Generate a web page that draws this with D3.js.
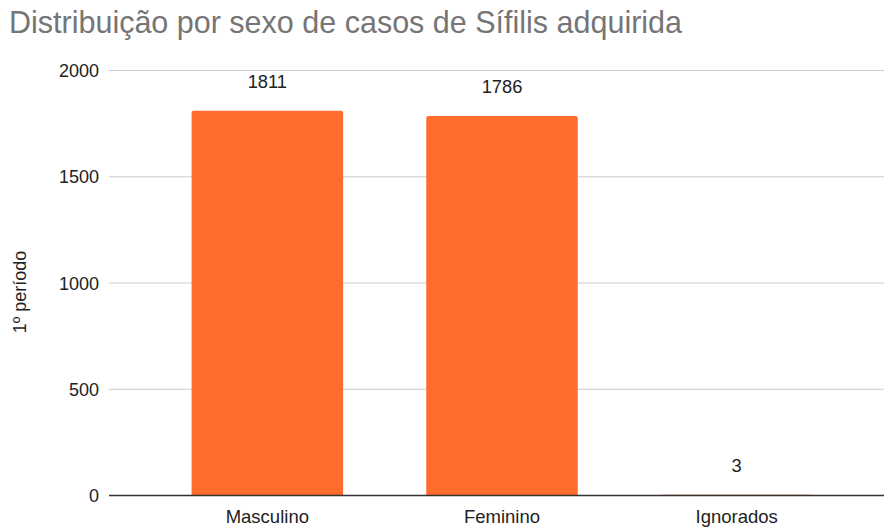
<!DOCTYPE html>
<html><head><meta charset="utf-8">
<script src="https://cdn.jsdelivr.net/npm/d3@7"></script>
<style>body{margin:0;background:#fff}svg{display:block;font-family:"Liberation Sans",Arial,sans-serif}</style>
</head><body><svg id="c" width="884" height="529"></svg>
<script>
const categories = ["Masculino", "Feminino", "Ignorados"];
const values = [1811, 1786, 3];
const yTicks = [0, 500, 1000, 1500, 2000];
const title = "Distribuição por sexo de casos de Sífilis adquirida";
const yTitle = "1º período";

const svg = d3.select("#c");
const y = d3.scaleLinear().domain([0, 2000]).range([495.5, 70.5]);
const p = 0.3545;
const x = d3.scaleBand().domain(categories).range([150, 854]).paddingInner(p).paddingOuter(p / 2);

svg.append("text").attr("x", 9).attr("y", 33).attr("font-size", 30.5).attr("fill", "#757575").text(title);

// gridlines
svg.append("g").selectAll("line").data(yTicks.filter(d => d !== 0)).join("line")
  .attr("x1", 109).attr("x2", 884).attr("y1", d => y(d)).attr("y2", d => y(d))
  .attr("stroke", "#cccccc").attr("stroke-width", 1);

// y tick labels
svg.append("g").selectAll("text").data(yTicks).join("text")
  .attr("x", 99).attr("y", d => y(d) + 6.5).attr("text-anchor", "end")
  .attr("font-size", 18).attr("fill", "#222").text(d => d);

// bars with slightly rounded top
svg.append("g").selectAll("path").data(values).join("path")
  .attr("fill", "#ff6d2d")
  .attr("d", (d, i) => {
    const x0 = x(categories[i]), w = x.bandwidth(), y0 = y(d), yb = y(0);
    const r = Math.min(2, (yb - y0));
    return `M${x0},${yb}V${y0 + r}Q${x0},${y0} ${x0 + r},${y0}H${x0 + w - r}Q${x0 + w},${y0} ${x0 + w},${y0 + r}V${yb}Z`;
  });

// value labels
svg.append("g").selectAll("text").data(values).join("text")
  .attr("x", (d, i) => x(categories[i]) + x.bandwidth() / 2).attr("y", d => y(d) - 23)
  .attr("text-anchor", "middle").attr("font-size", 18.3).attr("fill", "#222").text(d => d);

// baseline axis
svg.append("line").attr("x1", 109).attr("x2", 884).attr("y1", y(0)).attr("y2", y(0))
  .attr("stroke", "#333").attr("stroke-width", 1.5);

// x labels
svg.append("g").selectAll("text").data(categories).join("text")
  .attr("x", d => x(d) + x.bandwidth() / 2).attr("y", 523)
  .attr("text-anchor", "middle").attr("font-size", 18.5).attr("fill", "#222").text(d => d);

// y title
svg.append("text").attr("transform", "translate(26,292) rotate(-90)")
  .attr("text-anchor", "middle").attr("font-size", 18).attr("fill", "#222").text(yTitle);
</script></body></html>
